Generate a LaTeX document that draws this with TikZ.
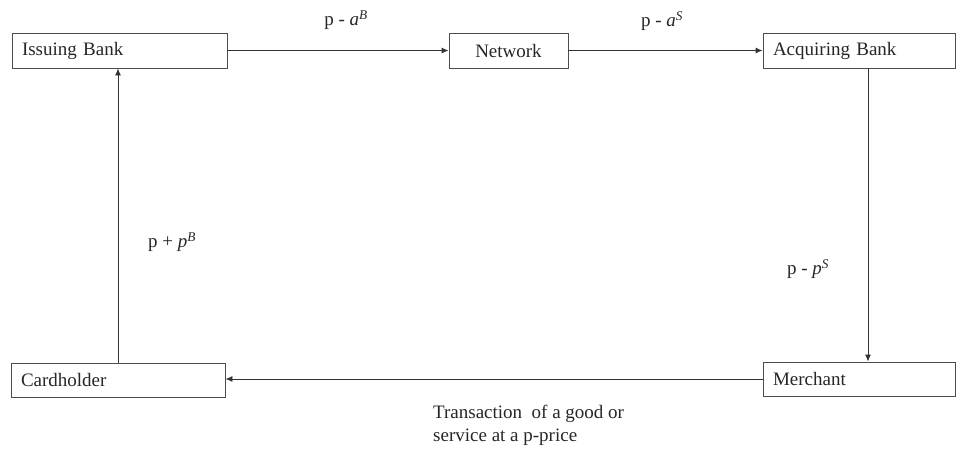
\documentclass[tikz,border=0pt]{standalone}
\usepackage{fontspec}
\setmainfont{Liberation Serif}
\usetikzlibrary{arrows.meta}

\begin{document}
\begin{tikzpicture}[x=1pt,y=-1pt,
  every node/.style={font=\fontsize{19}{23}\selectfont, text=black!85},
  party/.style={draw=black!70, line width=0.9pt, minimum height=35pt,
    inner xsep=10pt, inner ysep=0pt, align=left},
  hub/.style={draw=black!70, line width=0.9pt, minimum height=35pt,
    minimum width=119pt, inner sep=0pt},
  flow/.style={draw=black!80, line width=0.9pt,
    -{Latex[length=7pt,width=6pt]}},
  lbl/.style={inner sep=0pt}]

  \path[use as bounding box] (0,0) rectangle (962,451);

  % parties and the card network
  \node[party, text width=195pt] (iss) at (119.5,50.5) {Issuing Bank};
  \node[hub] (net) at (508.5,50.5) {Network};
  \node[party, text width=172pt] (acq) at (859,50.5) {Acquiring Bank};
  \node[party, text width=194pt, minimum height=34pt] (card) at (118,380) {Cardholder};
  \node[party, text width=172pt, minimum height=34pt] (mer) at (859,379) {Merchant};

  % payment flows
  \coordinate (down) at (868,0);
  \draw[flow] (iss.east) -- (net.west);
  \draw[flow] (net.east) -- (acq.west);
  \draw[flow] (acq.south -| down) -- (mer.north -| down);
  \draw[flow] (mer.west) -- (mer.west -| card.east);
  \draw[flow] (card.north) -- (card.north |- iss.south);

  % amounts on each flow
  \node[lbl] (fb) at (346,20) {p - \textit{a}\textsuperscript{\textit{B}}};
  \node[lbl] (fs) at (662,21) {p - \textit{a}\textsuperscript{\textit{S}}};
  \node[lbl] (pb) at (172,242) {p + \textit{p}\textsuperscript{\textit{B}}};
  \node[lbl] (ps) at (808,269) {p - \textit{p}\textsuperscript{\textit{S}}};
  \node[lbl, anchor=north west, align=left, font=\fontsize{19}{23}\selectfont]
    (tx) at (433,405) {Transaction\ \ of a good or\\service at a p-price};
\end{tikzpicture}
\end{document}
